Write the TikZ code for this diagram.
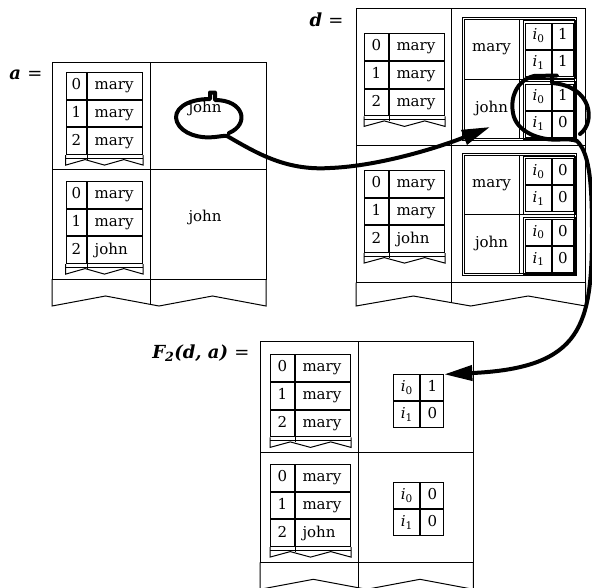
\documentclass[tikz,border=0pt]{standalone}
\usepackage{fontspec}
\setmainfont{DejaVu Serif}
\usetikzlibrary{arrows.meta,calc}
\tikzset{
  >={Triangle[length=28pt,width=15pt]},
  every picture/.style={line width=1pt},
  txt/.style={font=\fontsize{15}{18}\selectfont,text height=11pt,text depth=3.5pt},
  ix/.style={txt,draw,anchor=north west,minimum width=24pt,minimum height=26.7pt,inner sep=0pt},
  vl/.style={txt,draw,anchor=north west,minimum height=26.7pt,text width=41pt,inner xsep=7pt,inner ysep=0pt,align=left},
  ic/.style={txt,draw,anchor=north west,minimum width=25.5pt,minimum height=26pt,inner sep=0pt},
  iv/.style={ic,minimum width=21pt},
  lbl/.style={font=\fontsize{18}{22}\selectfont\bfseries\itshape,anchor=base east,inner sep=0pt},
  swirl/.style={line width=4pt,line cap=round,line join=round},
}
\newcommand{\tornedge}[4]{%
  \draw (#1) -- ($(#1)+(0,#3)$) -- ($(#1)!.25!(#2)+(0,#3-#4)$) -- ($(#1)!.5!(#2)+(0,#3)$)
    -- ($(#1)!.75!(#2)+(0,#3-#4)$) -- ($(#2)+(0,#3)$) -- (#2);}
\newcommand{\listtab}[5]{%
  \node[ix] (#1i0) at (#2) {0}; \node[vl] (#1v0) at (#1i0.north east) {#3};
  \node[ix] (#1i1) at (#1i0.south west) {1}; \node[vl] (#1v1) at (#1i1.north east) {#4};
  \node[ix] (#1i2) at (#1i1.south west) {2}; \node[vl] (#1v2) at (#1i2.north east) {#5};
  \draw ($(#1i2.south west)+(0,3.3)$) -- ($(#1v2.south east)+(0,3.3)$);
  \draw (#1i2.south east) -- ++(0,4.5);
  \tornedge{#1i2.south west}{#1v2.south east}{10}{5.5}}
\newcommand{\ivar}[1]{\textit{i}\textsubscript{#1}}
\newcommand{\idxtab}[4]{%
  \node[ic] (#1a) at (#2) {\ivar{0}}; \node[iv] (#1b) at (#1a.north east) {#3};
  \node[ic] (#1c) at (#1a.south west) {\ivar{1}}; \node[iv] (#1d) at (#1c.north east) {#4};}
\newcommand{\dblframe}[2]{\draw ($(#1.north west)+(-1.8,-1.8)$) rectangle ($(#2.south east)+(1.8,1.8)$);}

\begin{document}
\begin{tikzpicture}[x=1pt,y=-1pt]
\useasboundingbox (0,0) rectangle (592,587);
% a
\node[lbl] (la) at (43,79) {a \textmd{\upshape =}};
\draw (52,62) rectangle (266,279); \draw (150,62) -- (150,279); \draw (52,169) -- (266,169);
\tornedge{52,279}{266,279}{27}{10} \draw (150,279) -- (150,304.3);
\begin{scope}[ix/.append style={minimum width=20.5pt}]
\listtab{a1}{65.7,72}{mary}{mary}{mary}
\listtab{a2}{65.7,181}{mary}{mary}{john}
\end{scope}
\node[txt] (aj1) at (205,108.5) {john}; \node[txt] (aj2) at (205,218) {john};
% d
\node[lbl] (ld) at (344,26) {d \textmd{\upshape =}};
\draw (356,8.5) rectangle (585.5,282.7); \draw (451.7,8.5) -- (451.7,282.7); \draw (356,145.7) -- (585.5,145.7);
\tornedge{356,282.7}{585.5,282.7}{23.3}{10} \draw (451.7,282.7) -- (451.7,302.7);
\listtab{d1}{364,33.3}{mary}{mary}{mary}
\listtab{d2}{364,170}{mary}{mary}{john}
\draw (462.3,17.3) rectangle (576.3,140); \draw (464.3,19.3) rectangle (574.3,138);
\draw (464.3,79) -- (574.3,79); \draw (519,19.3) -- (519,138);
\draw (462.3,153.3) rectangle (576.3,275); \draw (464.3,155.3) rectangle (574.3,273);
\draw (464.3,214.2) -- (574.3,214.2); \draw (519,155.3) -- (519,273);
\node[txt] (dk1) at (491.5,48) {mary}; \node[txt] (dk2) at (491.5,109) {john};
\node[txt] (dk3) at (491.5,184) {mary}; \node[txt] (dk4) at (491.5,244) {john};
\idxtab{dt1}{525.3,22.5}{1}{1} \dblframe{dt1a}{dt1d}
\idxtab{dt2}{525.3,83.5}{1}{0} \dblframe{dt2a}{dt2d}
\idxtab{dt3}{525.3,158.3}{0}{0} \dblframe{dt3a}{dt3d}
\idxtab{dt4}{525.3,218.8}{0}{0} \dblframe{dt4a}{dt4d}
% F2(d,a)
\node[lbl] (lf) at (250,358.5) {F\textsubscript{2}(d, a) \textmd{\upshape =}};
\draw (260,341.7) rectangle (473.3,562.3); \draw (358.3,341.7) -- (358.3,562.3); \draw (260,452.7) -- (473.3,452.7);
\tornedge{260,562.3}{473.3,562.3}{27}{10} \draw (358.3,562.3) -- ++(0,25.4);
\listtab{f1}{270,354.3}{mary}{mary}{mary}
\listtab{f2}{270,464}{mary}{mary}{john}
\begin{scope}[ic/.append style={minimum width=26pt},iv/.append style={minimum width=23pt}]
\idxtab{ft1}{393.3,374.3}{1}{0}
\idxtab{ft2}{393.3,482.3}{0}{0}
\end{scope}
% arrows
\coordinate (aS) at (229,133); \coordinate (dJ) at (490,127); \coordinate (dS) at (580,134);
\draw[swirl,->] (aS) .. controls (250,124) and (244,100) .. (215,100) -- (215,92.5) -- (210,92.5) -- (210,99)
  .. controls (186,99) and (172,110) .. (177,122) .. controls (182,134) and (200,139) .. (215,137)
  .. controls (220,136.5) and (224,135.5) .. (227,136) .. controls (255,152) and (285,171) .. (330,168)
  .. controls (380,166) and (440,147) .. (dJ);
\draw[swirl,->] (dS) .. controls (596,122) and (592,86) .. (552,83) -- (552,75.5) -- (557,75.5) -- (534,76)
  .. controls (517,80) and (510,97) .. (513,113) .. controls (516,132) and (540,141) .. (560,139.5)
  .. controls (567,139) and (573,139.5) .. (577,141) .. controls (588,152) and (592,175) .. (592,230)
  .. controls (592,325) and (583,368) .. (ft1b.north east);
\end{tikzpicture}
\end{document}
